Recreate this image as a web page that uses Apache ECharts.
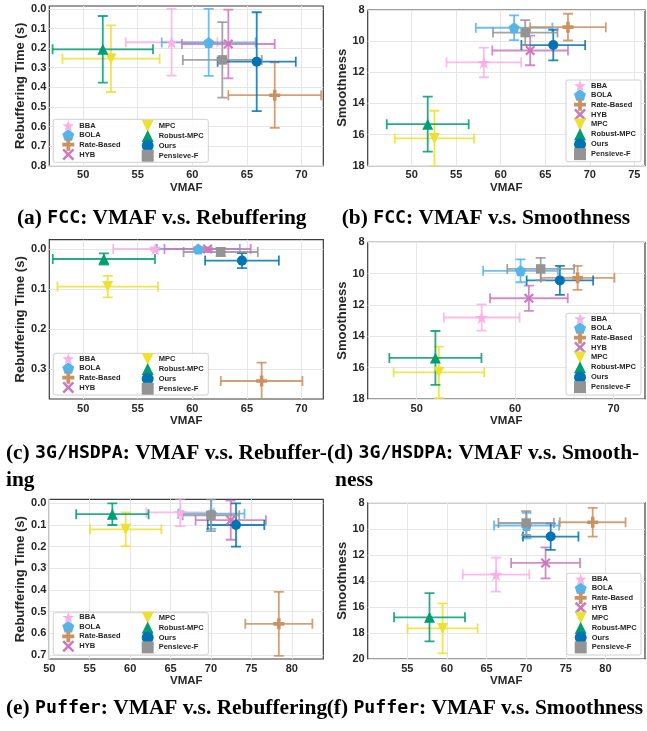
<!DOCTYPE html>
<html>
<head>
<meta charset="utf-8">
<script src="https://cdn.jsdelivr.net/npm/echarts@6/dist/echarts.min.js"></script>
<style>
  html, body { margin: 0; padding: 0; background: #ffffff; }
  #chart { width: 647px; height: 731px; }
</style>
</head>
<body>
<div id="chart"></div>
<script>
// ABR algorithms compared in every panel (legend order)
const algorithms = ['BBA', 'BOLA', 'Rate-Based', 'HYB', 'MPC', 'Robust-MPC', 'Ours', 'Pensieve-F'];
const algoColors = ['#fbafe4', '#56b4e9', '#ca9161', '#cc78bc', '#ece133', '#029e73', '#0173b2', '#949494'];

// FCC traces: mean +/- std
const fccVmaf        = [58.1, 61.5, 67.55, 63.3, 52.55, 51.8, 65.9, 62.75];
const fccVmafErr     = [4.2, 4.3, 4.25, 4.25, 4.45, 4.6, 3.58, 3.62];
const fccRebuf       = [0.17, 0.171, 0.44, 0.179, 0.254, 0.206, 0.269, 0.26];
const fccRebufErr    = [0.17, 0.171, 0.167, 0.175, 0.17, 0.17, 0.252, 0.193];
const fccSmooth      = [11.37, 9.14, 9.1, 10.6, 16.25, 15.33, 10.25, 9.45];
const fccSmoothErr   = [0.95, 0.8, 0.86, 0.95, 1.78, 1.77, 0.98, 0.8];

// 3G/HSDPA traces
const hsdpaVmaf      = [56.6, 60.55, 66.35, 61.4, 52.25, 51.9, 64.55, 62.6];
const hsdpaVmafErr   = [3.85, 3.8, 3.74, 3.95, 4.6, 4.68, 3.38, 3.4];
const hsdpaRebuf     = [0.0, 0.0, 0.33, 0.0, 0.094, 0.025, 0.029, 0.0075];
const hsdpaRebufErr  = [0.004, 0.004, 0.046, 0.004, 0.027, 0.014, 0.019, 0.01];
const hsdpaSmooth    = [12.8, 9.82, 10.27, 11.57, 16.3, 15.38, 10.43, 9.7];
const hsdpaSmoothErr = [0.84, 0.73, 0.77, 0.8, 1.64, 1.72, 0.92, 0.71];

// Puffer traces
const pufferVmaf      = [66.2, 70.05, 78.4, 72.45, 59.45, 57.8, 73.1, 70.0];
const pufferVmafErr   = [4.2, 4.1, 4.15, 4.35, 4.42, 4.48, 3.5, 3.5];
const pufferRebuf     = [0.042, 0.048, 0.556, 0.078, 0.12, 0.05, 0.1, 0.055];
const pufferRebufErr  = [0.063, 0.07, 0.148, 0.09, 0.078, 0.05, 0.1, 0.073];
const pufferSmooth    = [13.52, 9.75, 9.5, 12.62, 17.65, 16.8, 10.6, 9.56];
const pufferSmoothErr = [1.3, 0.98, 1.11, 1.19, 1.92, 1.85, 1.02, 0.92];

// Tick labels
const vmafTicksFcc          = [50, 55, 60, 65, 70];
const vmafTicksFccSmooth    = [50, 55, 60, 65, 70, 75];
const vmafTicksHsdpa        = [50, 55, 60, 65, 70];
const vmafTicksHsdpaSmooth  = [50, 60, 70];
const vmafTicksPuffer       = [50, 55, 60, 65, 70, 75, 80];
const vmafTicksPufferSmooth = [55, 60, 65, 70, 75, 80];
const rebufTicksFcc    = [0, 0.1, 0.2, 0.3, 0.4, 0.5, 0.6, 0.7, 0.8];
const rebufTicksHsdpa  = [0, 0.1, 0.2, 0.3];
const rebufTicksPuffer = [0, 0.1, 0.2, 0.3, 0.4, 0.5, 0.6, 0.7];
const smoothTicks18 = [8, 10, 12, 14, 16, 18];
const smoothTicks20 = [8, 10, 12, 14, 16, 18, 20];

// Marker shapes (star, pentagon, filled plus, filled x, down/up triangle, circle, square)
const STAR = 'path://M50 0L61.23 34.55L97.55 34.55L68.17 55.9L79.39 90.45L50 69.1L20.61 90.45L31.83 55.9L2.45 34.55L38.77 34.55Z';
const PENTAGON = 'path://M50 0L97.55 34.55L79.39 90.45L20.61 90.45L2.45 34.55Z';
const PLUS = 'path://M34 0H66V34H100V66H66V100H34V66H0V34H34Z';
const CROSS = 'path://M0 15L15 0L50 35L85 0L100 15L65 50L100 85L85 100L50 65L15 100L0 85L35 50Z';
const TRI_DOWN = 'path://M0 0L100 0L50 100Z';
const TRI_UP = 'path://M50 0L100 100L0 100Z';
const symbols = [STAR, PENTAGON, PLUS, CROSS, TRI_DOWN, TRI_UP, 'circle', 'rect'];
const symbolSizes = [13, 11, 11, 10, 11, 11, 10, 9.5];

const FONT = 'Liberation Sans, Arial, sans-serif';
const TXT = '#262626';

const panels = [
  { grid: { left: 49.3, top: 6, width: 274, height: 159.7 }, x: [46.9, 72], y: [-0.015, 0.8],
    xTicks: vmafTicksFcc, yTicks: rebufTicksFcc, yName: 'Rebuffering Time (s)', yGap: 21, dec: 1,
    vmaf: fccVmaf, vmafErr: fccVmafErr, m: fccRebuf, mErr: fccRebufErr,
    legend: 'two', legendTop: 120, box: [53.3, 119.3, 155, 43] },
  { grid: { left: 367.7, top: 10, width: 277.3, height: 155.7 }, x: [45.06, 76.2], y: [8, 18],
    xTicks: vmafTicksFccSmooth, yTicks: smoothTicks18, yName: 'Smoothness', yGap: 19, dec: 0,
    vmaf: fccVmaf, vmafErr: fccVmafErr, m: fccSmooth, mErr: fccSmoothErr,
    legend: 'one', legendTop: 80, box: [566, 80, 75, 81.7] },
  { grid: { left: 49.3, top: 239.7, width: 274, height: 159.3 }, x: [46.9, 72], y: [-0.0233, 0.375],
    xTicks: vmafTicksHsdpa, yTicks: rebufTicksHsdpa, yName: 'Rebuffering Time (s)', yGap: 21, dec: 1,
    vmaf: hsdpaVmaf, vmafErr: hsdpaVmafErr, m: hsdpaRebuf, mErr: hsdpaRebufErr,
    legend: 'two', legendTop: 353, box: [53.3, 353.3, 155, 41.7] },
  { grid: { left: 367.7, top: 242.3, width: 277.3, height: 156.7 }, x: [45.02, 73.2], y: [8, 18],
    xTicks: vmafTicksHsdpaSmooth, yTicks: smoothTicks18, yName: 'Smoothness', yGap: 19, dec: 0,
    vmaf: hsdpaVmaf, vmafErr: hsdpaVmafErr, m: hsdpaSmooth, mErr: hsdpaSmoothErr,
    legend: 'one', legendTop: 313, box: [566, 313.3, 75, 81.7] },
  { grid: { left: 49.3, top: 499.3, width: 274, height: 159.7 }, x: [50, 83.9], y: [-0.0185, 0.718],
    xTicks: vmafTicksPuffer, yTicks: rebufTicksPuffer, yName: 'Rebuffering Time (s)', yGap: 21, dec: 1,
    vmaf: pufferVmaf, vmafErr: pufferVmafErr, m: pufferRebuf, mErr: pufferRebufErr,
    legend: 'two', legendTop: 611.7, box: [53.3, 612.7, 155, 42.3] },
  { grid: { left: 367.7, top: 502.7, width: 277.3, height: 156.3 }, x: [50, 85], y: [8, 20],
    xTicks: vmafTicksPufferSmooth, yTicks: smoothTicks20, yName: 'Smoothness', yGap: 19, dec: 0,
    vmaf: pufferVmaf, vmafErr: pufferVmafErr, m: pufferSmooth, mErr: pufferSmoothErr,
    legend: 'one', legendTop: 573.3, box: [566.7, 573.3, 74.3, 81.7] }
];

// Error bars with caps, drawn through the axes of the panel
function renderErrorBar(params, api) {
  const x = api.value(0), y = api.value(1), ex = api.value(2), ey = api.value(3);
  const l = api.coord([x - ex, y]), r = api.coord([x + ex, y]);
  const t = api.coord([x, y - ey]), b = api.coord([x, y + ey]);
  const cap = 5;
  const style = { stroke: api.visual('color'), lineWidth: 1.8, opacity: 0.85 };
  const seg = (x1, y1, x2, y2) => ({ type: 'line', shape: { x1, y1, x2, y2 }, style });
  return {
    type: 'group',
    children: [
      seg(l[0], l[1], r[0], r[1]),
      seg(t[0], t[1], b[0], b[1]),
      seg(l[0], l[1] - cap, l[0], l[1] + cap),
      seg(r[0], r[1] - cap, r[0], r[1] + cap),
      seg(t[0] - cap, t[1], t[0] + cap, t[1]),
      seg(b[0] - cap, b[1], b[0] + cap, b[1])
    ]
  };
}

const grids = [], xAxes = [], yAxes = [], series = [], legends = [], graphics = [];

const legendItem = i => ({ name: algorithms[i], icon: symbols[i], itemStyle: { color: algoColors[i] } });
const legendBase = (top, left, idx) => ({
  orient: 'vertical', top: top, left: left, padding: 0,
  itemWidth: 12, itemHeight: 12, itemGap: -2.1,
  textStyle: { fontFamily: FONT, fontSize: 7.5, fontWeight: 'bold', color: TXT },
  data: idx.map(legendItem), selectedMode: true, z: 5
});

panels.forEach((p, k) => {
  grids.push(Object.assign({ show: true, borderColor: '#3c3c3c', borderWidth: 1.2, backgroundColor: '#ffffff' }, p.grid));
  xAxes.push({
    type: 'value', gridIndex: k, min: p.x[0], max: p.x[1],
    name: 'VMAF', nameLocation: 'middle', nameGap: 14,
    nameTextStyle: { fontFamily: FONT, fontSize: 11.5, fontWeight: 'bold', color: TXT },
    axisLine: { show: false },
    axisTick: { show: false, customValues: p.xTicks },
    axisLabel: { customValues: p.xTicks, margin: 4, fontFamily: FONT, fontSize: 11, fontWeight: 'bold', color: TXT },
    splitLine: { show: true, lineStyle: { color: '#e6e6e6', width: 1 } }
  });
  yAxes.push({
    type: 'value', gridIndex: k, min: p.y[0], max: p.y[1], inverse: true,
    name: p.yName, nameLocation: 'middle', nameGap: p.yGap,
    nameTextStyle: { fontFamily: FONT, fontSize: 13, fontWeight: 'bold', color: TXT },
    axisLine: { show: false },
    axisTick: { show: false, customValues: p.yTicks },
    axisLabel: { customValues: p.yTicks, margin: 3, fontFamily: FONT, fontSize: 11, fontWeight: 'bold', color: TXT,
      formatter: v => v.toFixed(p.dec) },
    splitLine: { show: true, lineStyle: { color: '#e6e6e6', width: 1 } }
  });
  algorithms.forEach((name, i) => {
    series.push({
      name, type: 'custom', xAxisIndex: k, yAxisIndex: k, clip: true, z: 2,
      itemStyle: { color: algoColors[i] },
      encode: { x: 0, y: 1 },
      data: [[p.vmaf[i], p.m[i], p.vmafErr[i], p.mErr[i]]],
      renderItem: renderErrorBar, silent: true
    });
    series.push({
      name, type: 'scatter', xAxisIndex: k, yAxisIndex: k, z: 2,
      symbol: symbols[i], symbolSize: symbolSizes[i],
      itemStyle: { color: algoColors[i], opacity: 1 },
      emphasis: { scale: false },
      data: [[p.vmaf[i], p.m[i]]]
    });
  });
  // legend frame
  graphics.push({
    type: 'rect', z: 4,
    shape: { x: p.box[0], y: p.box[1], width: p.box[2], height: p.box[3], r: 2 },
    style: { fill: 'rgba(255,255,255,0.85)', stroke: '#d0d0d0', lineWidth: 1 }
  });
  if (p.legend === 'two') {
    legends.push(legendBase(p.legendTop, p.box[0] + 9, [0, 1, 2, 3]));
    legends.push(legendBase(p.legendTop, p.box[0] + 88.4, [4, 5, 6, 7]));
  } else {
    legends.push(legendBase(p.legendTop, p.box[0] + 8, [0, 1, 2, 3, 4, 5, 6, 7]));
  }
});

// Sub-figure captions
const captionRich = {
  s: { fontFamily: 'Liberation Serif, Times New Roman, serif', fontSize: 21.4, fontWeight: 'bold', color: '#111' },
  m: { fontFamily: 'DejaVu Sans Mono, monospace', fontSize: 18.2, fontWeight: 'bold', color: '#111' }
};
const captions = [
  { x: 17, y: 218, text: '{s|(a) }{m|FCC}{s|: VMAF v.s. Rebuffering}' },
  { x: 341.7, y: 218, text: '{s|(b) }{m|FCC}{s|: VMAF v.s. Smoothness}' },
  { x: 6, y: 453.3, text: '{s|(c) }{m|3G/HSDPA}{s|: VMAF v.s. Rebuffer-}' },
  { x: 6, y: 480, text: '{s|ing}' },
  { x: 327, y: 453.3, text: '{s|(d) }{m|3G/HSDPA}{s|: VMAF v.s. Smooth-}' },
  { x: 335, y: 480, text: '{s|ness}' },
  { x: 6, y: 708.3, text: '{s|(e) }{m|Puffer}{s|: VMAF v.s. Rebuffering}' },
  { x: 326.7, y: 708.3, text: '{s|(f) }{m|Puffer}{s|: VMAF v.s. Smoothness}' }
];
captions.forEach(c => graphics.push({
  type: 'text', x: c.x, y: c.y, z: 6,
  style: { text: c.text, rich: captionRich, verticalAlign: 'middle', align: 'left' }
}));

const chart = echarts.init(document.getElementById('chart'), null, { renderer: 'canvas' });
chart.setOption({
  animation: false,
  backgroundColor: '#ffffff',
  grid: grids,
  xAxis: xAxes,
  yAxis: yAxes,
  legend: legends,
  graphic: { elements: graphics },
  series: series
});
</script>
</body>
</html>
